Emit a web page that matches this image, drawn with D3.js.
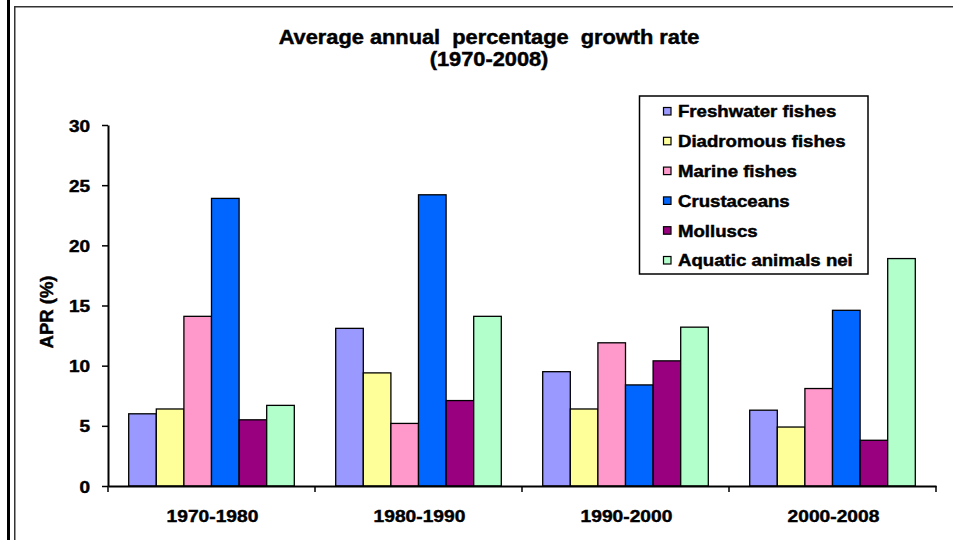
<!DOCTYPE html>
<html>
<head>
<meta charset="utf-8">
<script src="https://cdn.jsdelivr.net/npm/d3@7"></script>
<style>
  html, body { margin: 0; padding: 0; background: #fff; }
  svg { display: block; }
  text { font-family: "Liberation Sans", Arial, sans-serif; font-weight: bold; fill: #000;
         stroke: #000; stroke-width: 0.45px; }
</style>
</head>
<body>
<svg id="chart" width="953" height="540"></svg>
<script>
// Periods on the x axis
const periods = ["1970-1980", "1980-1990", "1990-2000", "2000-2008"];

// Species groups and their bar colours
const groups = ["Freshwater fishes", "Diadromous fishes", "Marine fishes", "Crustaceans", "Molluscs", "Aquatic animals nei"];
const colors = ["#9999FF", "#FFFF99", "#FF99CC", "#0066FF", "#990080", "#B3FFCC"];

// Average annual percentage growth rate (%) per group, one value per period
const freshwater = [6.0, 13.1, 9.5, 6.3];
const diadromous = [6.4, 9.4, 6.4, 4.9];
const marine     = [14.1, 5.2, 11.9, 8.1];
const crustaceans = [23.9, 24.2, 8.4, 14.6];
const molluscs   = [5.5, 7.1, 10.4, 3.8];
const aquatic    = [6.7, 14.1, 13.2, 18.9];
const seriesValues = [freshwater, diadromous, marine, crustaceans, molluscs, aquatic];

const yTicks = [0, 5, 10, 15, 20, 25, 30];

const svg = d3.select("#chart");
const SX = 1.13; // horizontal widening of the lettering

// Frame lines
svg.append("line").attr("x1", 8.5).attr("x2", 8.5).attr("y1", 0).attr("y2", 540)
  .attr("stroke", "#000").attr("stroke-width", 3);
svg.append("rect").attr("x", 14.75).attr("y", 6.75).attr("width", 1000).attr("height", 1000)
  .attr("fill", "none").attr("stroke", "#333").attr("stroke-width", 1.5);

const plot = { left: 108, right: 936, top: 125, bottom: 486 };

const x0 = d3.scaleBand().domain(periods).range([plot.left, plot.right]).padding(0);
const x1 = d3.scaleBand().domain(d3.range(groups.length))
  .range([x0.bandwidth() * 0.1, x0.bandwidth() * 0.9]).padding(0);
const y = d3.scaleLinear().domain([0, 30]).range([plot.bottom, plot.top]);

// Bars
const gPeriods = svg.append("g").selectAll("g").data(periods).join("g")
  .attr("transform", d => `translate(${x0(d)},0)`);
gPeriods.selectAll("rect")
  .data((p, pi) => seriesValues.map((vals, si) => ({ si, v: vals[pi] })))
  .join("rect")
  .attr("x", d => x1(d.si))
  .attr("width", x1.bandwidth())
  .attr("y", d => y(d.v))
  .attr("height", d => y(0) - y(d.v))
  .attr("fill", d => colors[d.si])
  .attr("stroke", "#000")
  .attr("stroke-width", 1.3);

// Y axis
const yAxis = svg.append("g").attr("transform", `translate(${plot.left},0)`)
  .call(d3.axisLeft(y).tickValues(yTicks).tickSize(6).tickSizeOuter(0).tickFormat(d3.format("d")));
yAxis.select(".domain").attr("stroke", "#000").attr("stroke-width", 2);
yAxis.selectAll(".tick line").attr("stroke", "#000").attr("stroke-width", 1.5);
yAxis.selectAll(".tick text").remove();
yAxis.selectAll(".tick").append("text")
  .attr("text-anchor", "end")
  .attr("font-size", 16.8)
  .attr("transform", `translate(-18,6) scale(${SX},1)`)
  .text(d => d);

// X axis
const xAxis = svg.append("g").attr("transform", `translate(0,${plot.bottom})`)
  .call(d3.axisBottom(x0).tickSize(0).tickSizeOuter(0));
xAxis.select(".domain").attr("stroke", "#000").attr("stroke-width", 2);
xAxis.selectAll(".tick text").remove();
xAxis.selectAll(".tick").append("text")
  .attr("text-anchor", "middle")
  .attr("font-size", 17)
  .attr("transform", `translate(1,36) scale(${SX},1)`)
  .text(d => d);
// Category separators on the x axis
const sepX = periods.map(p => x0(p)).concat([plot.right]);
xAxis.selectAll("line.sep").data(sepX).join("line").attr("class", "sep")
  .attr("x1", d => d).attr("x2", d => d).attr("y1", 0).attr("y2", 6)
  .attr("stroke", "#000").attr("stroke-width", 1.5);

// Y axis title
svg.append("text")
  .attr("text-anchor", "middle")
  .attr("font-size", 18.5)
  .attr("transform", "translate(53,312) rotate(-90)")
  .text("APR (%)");

// Chart title
const title = svg.append("text").attr("text-anchor", "middle").attr("font-size", 19.7)
  .attr("transform", `translate(489,0) scale(${SX * 0.98},1)`);
title.append("tspan").attr("x", 0).attr("y", 44)
  .style("white-space", "pre").text("Average annual  percentage  growth rate");
title.append("tspan").attr("x", 0).attr("y", 66).text("(1970-2008)");

// Legend
const legend = svg.append("g").attr("transform", "translate(639.5,96)");
legend.append("rect").attr("width", 228.5).attr("height", 178)
  .attr("fill", "#fff").attr("stroke", "#000").attr("stroke-width", 1.5);
const items = legend.selectAll("g.item").data(groups).join("g").attr("class", "item")
  .attr("transform", (d, i) => `translate(0,${15.5 + i * 29.8})`);
items.append("rect").attr("x", 24).attr("y", -4).attr("width", 7.5).attr("height", 7.5)
  .attr("fill", (d, i) => colors[i]).attr("stroke", "#000").attr("stroke-width", 1.2);
items.append("text")
  .attr("font-size", 16.2)
  .attr("transform", `translate(38.5,5.8) scale(1.15,1)`)
  .text(d => d);
</script>
</body>
</html>
